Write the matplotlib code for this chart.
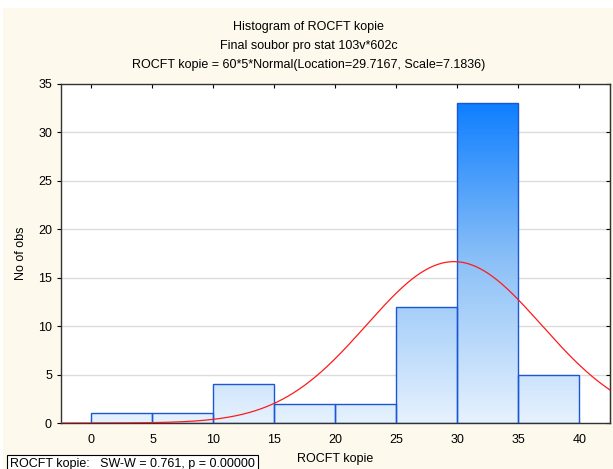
import numpy as np
import matplotlib
matplotlib.use("Agg")
import matplotlib.pyplot as plt
from matplotlib.colors import LinearSegmentedColormap
from matplotlib.patches import Rectangle

plt.rcParams['font.family'] = ['Liberation Sans', 'DejaVu Sans']

# histogram of ROCFT kopie, bins of width 5
bin_edges = [0, 5, 10, 15, 20, 25, 30, 35, 40]
counts = [1, 1, 4, 2, 2, 12, 33, 5]
n_obs = 60
loc = 29.7167
scale = 7.1836
x_ticks = [0, 5, 10, 15, 20, 25, 30, 35, 40]
y_ticks = [0, 5, 10, 15, 20, 25, 30, 35]

titles = ["Histogram of ROCFT kopie",
          "Final soubor pro stat 103v*602c",
          "ROCFT kopie = 60*5*Normal(Location=29.7167, Scale=7.1836)"]
sw_text = "ROCFT kopie:   SW-W = 0.761, p = 0.00000"

cream = "#fdf9ec"
fig = plt.figure(figsize=(6.13, 4.69), dpi=100, facecolor="white")
fig.patches.append(Rectangle((0.005, 0), 0.995, 0.983, transform=fig.transFigure,
                             facecolor=cream, edgecolor="none", zorder=-10))

ax = fig.add_axes([0.0995, 0.098, 0.8955, 0.723])
ax.set_facecolor("white")

for y in y_ticks[1:-1]:
    ax.axhline(y, color="#dcdcdc", lw=1, zorder=0)

# bars filled with a vertical gradient tied to the y axis
cmap = LinearSegmentedColormap.from_list("blu", ["#e6f2fe", "#8cc0f7", "#0a7dff"])
grad = np.linspace(0, 1, 256).reshape(-1, 1)
widths = np.diff(bin_edges)
bars = ax.bar(bin_edges[:-1], counts, width=widths, align="edge",
              facecolor="none", edgecolor="#1a56d6", linewidth=1.0, zorder=3)
for b in bars:
    im = ax.imshow(grad, cmap=cmap, origin="lower", aspect="auto",
                   extent=[-2.5, 42.5, 0, 33.5], zorder=2, interpolation="bilinear")
    im.set_clip_path(b)
ax.set_xlim(-2.5, 42.5)
ax.set_ylim(0, 35)

# fitted normal curve
xs = np.linspace(-2.5, 42.5, 400)
ys = n_obs * widths[0] * np.exp(-0.5 * ((xs - loc) / scale) ** 2) / (scale * np.sqrt(2 * np.pi))
ax.plot(xs, ys, color="#ff1a1a", lw=0.9, zorder=4)

ax.set_xticks(x_ticks)
ax.set_yticks(y_ticks)
ax.tick_params(axis="x", direction="in", length=3, labelsize=9, pad=8, top=True)
ax.tick_params(axis="y", direction="out", length=3, labelsize=9)

# right-hand ticks point inward
rax = ax.secondary_yaxis("right")
rax.set_yticks(y_ticks)
rax.tick_params(direction="in", length=3, labelright=False)
rax.spines["right"].set_color("#333333")

for sp in ax.spines.values():
    sp.set_color("#333333")
    sp.set_linewidth(1.0)

ax.set_ylabel("No of obs", fontsize=9, labelpad=8)

for i, t in enumerate(titles):
    fig.text(0.503, 1 - (27 + 19 * i) / 469, t, ha="center", va="center", fontsize=9)

fig.text(0.547, 1 - 459 / 469, "ROCFT kopie", ha="center", va="center", fontsize=9, zorder=1)
fig.text(0.017, 1 - 464 / 469, sw_text, ha="left", va="center", fontsize=9, zorder=5,
         bbox=dict(boxstyle="square,pad=0.25", facecolor="white", edgecolor="black", lw=0.8))

fig.savefig("out.png", dpi=100, facecolor=fig.get_facecolor())
